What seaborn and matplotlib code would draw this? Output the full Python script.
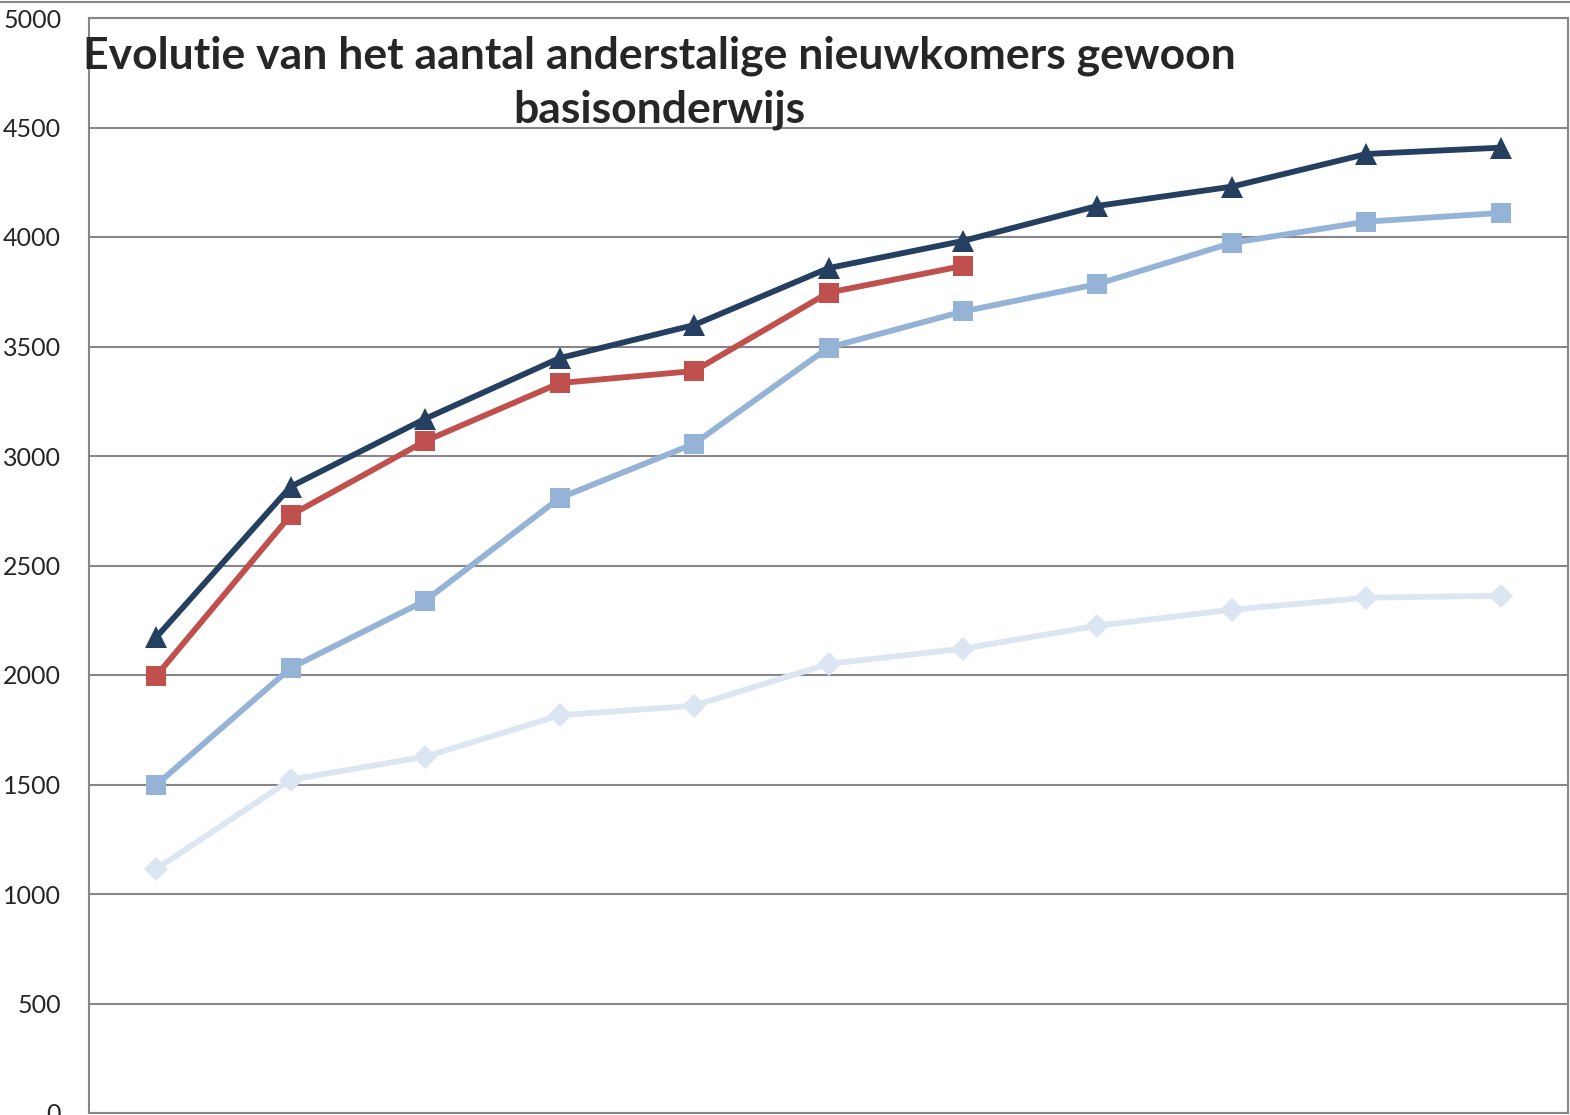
import numpy as np
import pandas as pd
import seaborn as sns
import matplotlib.pyplot as plt
from matplotlib.lines import Line2D

# 11 schooljaren (x-as labels zijn in het origineel weggesneden)
positions = list(range(11))

reeks_totaal = [2172, 2860, 3170, 3447, 3598, 3858, 3982, 4142, 4230, 4379, 4408]
reeks_rood = [1996, 2730, 3068, 3333, 3388, 3746, 3868, np.nan, np.nan, np.nan, np.nan]
reeks_blauw = [1498, 2032, 2339, 2808, 3056, 3495, 3660, 3785, 3973, 4070, 4110]
reeks_licht = [1114, 1522, 1627, 1816, 1860, 2051, 2120, 2225, 2298, 2353, 2362]

series_names = ['totaal', 'reeks 2', 'reeks 3', 'reeks 4']
colors = ['#243F60', '#C0504D', '#95B3D7', '#DCE6F2']
markers = ['^', 's', 's', 'D']
marker_sizes = [16, 14, 14, 12]

title = 'Evolutie van het aantal anderstalige nieuwkomers gewoon\nbasisonderwijs'


def build_frame() -> pd.DataFrame:
    rows = []
    for name, vals in zip(series_names, [reeks_totaal, reeks_rood, reeks_blauw, reeks_licht]):
        for x, v in zip(positions, vals):
            rows.append({'x': x, 'waarde': v, 'reeks': name})
    return pd.DataFrame(rows).dropna()


def main():
    sns.set_style('white')
    plt.rcParams['font.family'] = ['Lato', 'DejaVu Sans']

    df = build_frame()

    fig = plt.figure(figsize=(15.7, 11.15), dpi=100)
    ax = fig.add_axes([89 / 1570, 2 / 1115, (1568 - 89) / 1570, (1113 - 18) / 1115])

    ax.set_axisbelow(True)
    ax.yaxis.grid(True, color='#878787', linewidth=1.5)

    # achterste reeks eerst, donkere lijn bovenop
    for name, col, mk, ms in reversed(list(zip(series_names, colors, markers, marker_sizes))):
        sub = df[df['reeks'] == name]
        sns.lineplot(data=sub, x='x', y='waarde', ax=ax, color=col, marker=mk,
                     markersize=ms, markeredgewidth=0, linewidth=4.2, legend=False)

    ax.set_xlim(-0.5, 10.5)
    ax.set_ylim(0, 5000)
    ax.set_yticks(np.arange(0, 5001, 500))
    ax.set_xticks([])
    ax.set_xlabel('')
    ax.set_ylabel('')
    ax.tick_params(axis='y', labelsize=18, length=0, pad=20)

    for side in ['left', 'right', 'top', 'bottom']:
        ax.spines[side].set_color('#878787')
        ax.spines[side].set_linewidth(1.5)

    fig.add_artist(Line2D([0, 1], [1 - 2 / 1115, 1 - 2 / 1115], color='#878787', linewidth=1.5))

    fig.text(659 / 1570, 1 - 35 / 1115, title, ha='center', va='top',
             fontsize=32, fontweight='bold', linespacing=1.42, family=['Lato', 'DejaVu Sans'])

    fig.savefig('out.png', dpi=100)


if __name__ == '__main__':
    main()
